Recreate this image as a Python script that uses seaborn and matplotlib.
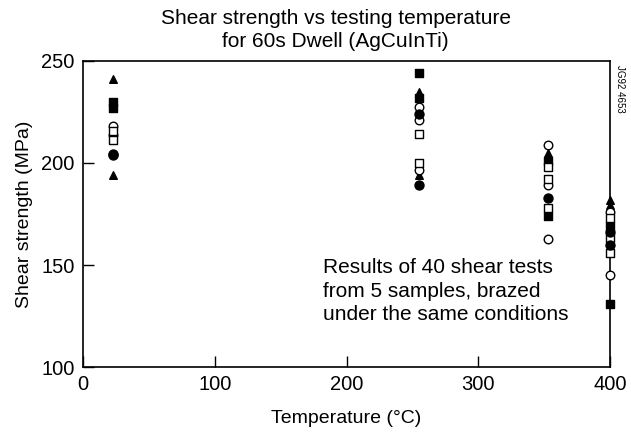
import numpy as np
import pandas as pd
import matplotlib
matplotlib.use("Agg")
import matplotlib.pyplot as plt
import seaborn as sns

# ---- data ----
temps_c = [23, 255, 353, 400]

# per sample (marker type): list of (temperature, strength)
tri_filled_t = [23, 23, 255, 255, 353, 400, 400]
tri_filled_v = [241, 194, 235, 194, 205, 182, 179.5]

sq_filled_t = [23, 23, 255, 255, 353, 353, 400, 400]
sq_filled_v = [230, 227, 244, 232, 201, 174, 169, 131]

circ_open_t = [23, 23, 255, 255, 255, 353, 353, 353, 400, 400]
circ_open_v = [218, 213.5, 227.5, 221, 196.5, 209, 189, 162.5, 176, 145]

sq_open_t = [23, 23, 255, 255, 353, 353, 353, 400, 400, 400]
sq_open_v = [215.5, 211.5, 214, 200, 198, 192, 178, 173, 163, 156]

circ_filled_t = [23, 23, 255, 255, 353, 400, 400]
circ_filled_v = [204.5, 204, 224, 189, 183, 166, 160]

series_names = ["A", "B", "C", "D", "E"]

title_text = "Shear strength vs testing temperature\nfor 60s Dwell (AgCuInTi)"
x_label = "Temperature (°C)"
y_label = "Shear strength (MPa)"
note_text = "Results of 40 shear tests\nfrom 5 samples, brazed\nunder the same conditions"
x_ticks = [0, 100, 200, 300, 400]
y_ticks = [100, 150, 200, 250]

frames = []
for name, t, v in zip(series_names,
                      [tri_filled_t, sq_filled_t, circ_open_t, sq_open_t, circ_filled_t],
                      [tri_filled_v, sq_filled_v, circ_open_v, sq_open_v, circ_filled_v]):
    frames.append(pd.DataFrame({"temp": t, "strength": v, "sample": name}))
df = pd.concat(frames, ignore_index=True)

# ---- style ----
sns.set_theme(style="ticks")
plt.rcParams["font.family"] = ["Liberation Sans", "DejaVu Sans"]
plt.rcParams["text.color"] = "black"
plt.rcParams["axes.labelcolor"] = "black"

fig = plt.figure(figsize=(6.31, 4.36), dpi=100)
ax = fig.add_axes([83 / 631, 1 - 367 / 436, (610 - 83) / 631, (367 - 61) / 436])

styles = {
    "A": dict(marker="^", facecolor="black", s=30),
    "B": dict(marker="s", facecolor="black", s=30),
    "C": dict(marker="o", facecolor="white", s=38),
    "D": dict(marker="s", facecolor="white", s=30),
    "E": dict(marker="o", facecolor="black", s=42),
}
for name in series_names:
    st = styles[name]
    sns.scatterplot(data=df[df["sample"] == name], x="temp", y="strength",
                    marker=st["marker"], s=st["s"], color=st["facecolor"],
                    edgecolor="black", linewidth=1.0, ax=ax, clip_on=False,
                    zorder=3, legend=False)

ax.set_xlim(0, 400)
ax.set_ylim(100, 250)
ax.set_xticks(x_ticks)
ax.set_yticks(y_ticks)
ax.tick_params(direction="in", length=8, width=1.0, labelsize=14.5, pad=6,
               colors="black", labelcolor="black")
for sp in ax.spines.values():
    sp.set_visible(True)
    sp.set_linewidth(1.2)
    sp.set_color("black")

ax.set_xlabel(x_label, fontsize=14, labelpad=11, color="black")
ax.set_ylabel(y_label, fontsize=14, labelpad=6, color="black")
fig.text(0.532, 1 - 30 / 436, title_text, ha="center", va="center",
         fontsize=15, linespacing=1.25, color="black")

ax.text(0.455, 0.355, note_text, transform=ax.transAxes, ha="left", va="top",
        fontsize=15, linespacing=1.3, color="black")

fig.text(615 / 631, 1 - 65 / 436, "JG92 4653", rotation=270, ha="left",
         va="top", fontsize=7, color="black")

fig.savefig("out.png", dpi=100)
